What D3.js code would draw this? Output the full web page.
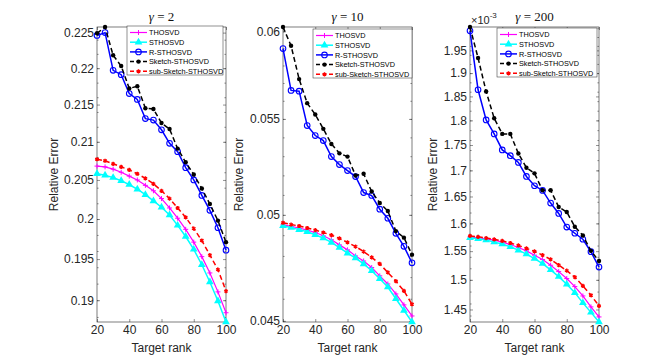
<!DOCTYPE html>
<html lang="en">
<head>
    <meta charset="UTF-8">
    <title>Relative Error vs Target rank</title>
    <script src="https://d3js.org/d3.v7.min.js"></script>
    <style>
        body {
            margin: 0;
            background-color: #ffffff;
        }

        svg {
            display: block;
            font-family: "Liberation Sans", Arial, sans-serif;
        }

        .tick text {
            font-size: 12px;
            fill: #262626;
        }

        .axis-label {
            font-size: 12px;
            fill: #262626;
            text-anchor: middle;
        }

        .title {
            font-family: "Liberation Serif", "Times New Roman", serif;
            font-size: 13px;
            font-weight: normal;
            fill: #111;
            text-anchor: middle;
        }

        .legend-text {
            font-size: 7.3px;
            fill: #000;
        }
    </style>
</head>
<body>
    <svg width="664" height="361"></svg>

    <script>
        const ranks = [20, 25, 30, 35, 40, 45, 50, 55, 60, 65, 70, 75, 80, 85, 90, 95, 100];
        const methods = ["THOSVD", "STHOSVD", "R-STHOSVD", "Sketch-STHOSVD", "sub-Sketch-STHOSVD"];
        const gammas = ["2", "10", "200"];
        const xTicks = [20, 40, 60, 80, 100];

        // gamma = 2
        const g2Thosvd = [0.2068, 0.2067, 0.2064, 0.2060, 0.2055, 0.2050, 0.2043, 0.2036, 0.2026, 0.2014, 0.2001, 0.1987, 0.1971, 0.1953, 0.1933, 0.1910, 0.1885];
        const g2Sthosvd = [0.2058, 0.2056, 0.2053, 0.2049, 0.2044, 0.2038, 0.2031, 0.2023, 0.2015, 0.2005, 0.1992, 0.1978, 0.1962, 0.1943, 0.1922, 0.1899, 0.1874];
        const g2RSthosvd = [0.2246, 0.2250, 0.2197, 0.2191, 0.2165, 0.2157, 0.2131, 0.2129, 0.2116, 0.2098, 0.2087, 0.2066, 0.2050, 0.2030, 0.2011, 0.1989, 0.1961];
        const g2Sketch = [0.2249, 0.2258, 0.2218, 0.2203, 0.2172, 0.2175, 0.2145, 0.2144, 0.2125, 0.2117, 0.2091, 0.2073, 0.2057, 0.2039, 0.2019, 0.1998, 0.1971];
        const g2SubSketch = [0.2077, 0.2075, 0.2071, 0.2067, 0.2063, 0.2058, 0.2052, 0.2045, 0.2036, 0.2026, 0.2014, 0.2002, 0.1988, 0.1973, 0.1955, 0.1937, 0.1911];
        const g2YTicks = [0.19, 0.195, 0.2, 0.205, 0.21, 0.215, 0.22, 0.225];

        // gamma = 10
        const g10Thosvd = [0.04951, 0.04943, 0.04935, 0.04925, 0.04913, 0.04897, 0.04878, 0.04853, 0.04829, 0.04800, 0.04776, 0.04745, 0.04706, 0.04668, 0.04622, 0.04572, 0.04522];
        const g10Sthosvd = [0.04946, 0.04937, 0.04927, 0.04917, 0.04902, 0.04886, 0.04865, 0.04840, 0.04813, 0.04790, 0.04762, 0.04730, 0.04692, 0.04654, 0.04600, 0.04547, 0.04495];
        const g10RSthosvd = [0.05898, 0.05658, 0.05654, 0.05464, 0.05410, 0.05383, 0.05298, 0.05256, 0.05225, 0.05194, 0.05112, 0.05097, 0.05028, 0.04983, 0.04909, 0.04846, 0.04767];
        const g10Sketch = [0.06026, 0.05915, 0.05722, 0.05587, 0.05524, 0.05446, 0.05365, 0.05315, 0.05298, 0.05199, 0.05208, 0.05117, 0.05059, 0.05019, 0.04920, 0.04888, 0.04806];
        const g10SubSketch = [0.04961, 0.04952, 0.04945, 0.04935, 0.04925, 0.04913, 0.04900, 0.04884, 0.04865, 0.04845, 0.04821, 0.04793, 0.04762, 0.04722, 0.04681, 0.04636, 0.04575];
        const g10YTicks = [0.045, 0.05, 0.055, 0.06];

        // gamma = 200, values in units of 1e-3
        const g200Thosvd = [1.5756, 1.5739, 1.5720, 1.5697, 1.5661, 1.5619, 1.5564, 1.5505, 1.5429, 1.5352, 1.5253, 1.5142, 1.5022, 1.4885, 1.4726, 1.4543, 1.4377];
        const g200Sthosvd = [1.5739, 1.5720, 1.5697, 1.5661, 1.5626, 1.5577, 1.5518, 1.5448, 1.5369, 1.5281, 1.5172, 1.5055, 1.4926, 1.4782, 1.4610, 1.4452, 1.4294];
        const g200RSthosvd = [1.9941, 1.8641, 1.8010, 1.7723, 1.7402, 1.7288, 1.7155, 1.6882, 1.6704, 1.6614, 1.6376, 1.6183, 1.5933, 1.5821, 1.5712, 1.5490, 1.5220];
        const g200Sketch = [2.0028, 1.9332, 1.8604, 1.8043, 1.7724, 1.7724, 1.7331, 1.7052, 1.6942, 1.6618, 1.6618, 1.6302, 1.6210, 1.5939, 1.5781, 1.5505, 1.5326];
        const g200SubSketch = [1.5773, 1.5756, 1.5734, 1.5711, 1.5684, 1.5645, 1.5603, 1.5550, 1.5497, 1.5429, 1.5355, 1.5256, 1.5158, 1.5046, 1.4896, 1.4738, 1.4560];
        const g200YTicks = [1.45, 1.5, 1.55, 1.6, 1.65, 1.7, 1.75, 1.8, 1.85, 1.9, 1.95];

        const svg = d3.select("svg");
        const plotTop = 27, plotBottom = 322, plotW = 129;

        const panels = [
            { series: [g2Thosvd, g2Sthosvd, g2RSthosvd, g2Sketch, g2SubSketch], yTicks: g2YTicks, minorStep: 0.002,
              left: 97, ylabelOff: 39, legendX: 127, legendY: 26, legendW: 96, exponent: null },
            { series: [g10Thosvd, g10Sthosvd, g10RSthosvd, g10Sketch, g10SubSketch], yTicks: g10YTicks, minorStep: 0.001,
              left: 283, ylabelOff: 40, legendX: 313, legendY: 29, legendW: 99, exponent: null },
            { series: [g200Thosvd, g200Sthosvd, g200RSthosvd, g200Sketch, g200SubSketch], yTicks: g200YTicks, minorStep: 0.02,
              left: 470, ylabelOff: 33, legendX: 497, legendY: 28, legendW: 100, exponent: "-3" }
        ];

        const styles = [
            { color: "#ff00ff", width: 1.2, dash: null, marker: "plus" },
            { color: "#00ffff", width: 1.5, dash: null, marker: "triangle" },
            { color: "#0000ff", width: 1.5, dash: null, marker: "circle" },
            { color: "#000000", width: 1.5, dash: "5,3", marker: "dot" },
            { color: "#ff0000", width: 1.5, dash: "5,3", marker: "star" }
        ];

        const fmt = d => String(+d.toFixed(4));

        function drawMarker(g, type, x, y, color) {
            if (type === "circle") {
                g.append("circle").attr("cx", x).attr("cy", y).attr("r", 2.8)
                    .attr("fill", "none").attr("stroke", color).attr("stroke-width", 1.1);
            } else if (type === "dot") {
                g.append("circle").attr("cx", x).attr("cy", y).attr("r", 2.2).attr("fill", color);
            } else if (type === "triangle") {
                g.append("path").attr("transform", `translate(${x},${y})`)
                    .attr("d", d3.symbol(d3.symbolTriangle).size(26)).attr("fill", color);
            } else if (type === "plus") {
                g.append("path").attr("transform", `translate(${x},${y})`)
                    .attr("d", "M-2.5,0H2.5M0,-2.5V2.5").attr("stroke", color).attr("stroke-width", 1);
            } else if (type === "star") {
                g.append("path").attr("transform", `translate(${x},${y})`)
                    .attr("d", d3.symbol(d3.symbolAsterisk).size(12))
                    .attr("stroke", color).attr("stroke-width", 1.4).attr("fill", "none");
            }
        }

        panels.forEach(function(p, pi) {
            const g = svg.append("g");
            const x = d3.scaleLinear().domain([20, 100]).range([p.left, p.left + plotW]);
            const y = d3.scaleLog()
                .domain(d3.extent(p.series.flat()))
                .range([plotBottom, plotTop]);

            const minor = d3.range(Math.ceil(y.domain()[0] / p.minorStep) * p.minorStep, y.domain()[1], p.minorStep);

            // axes box
            g.append("rect")
                .attr("x", p.left).attr("y", plotTop)
                .attr("width", plotW).attr("height", plotBottom - plotTop)
                .attr("fill", "#fff").attr("stroke", "#262626").attr("stroke-width", 0.6);

            const axes = [
                d3.axisLeft(y).tickValues(p.yTicks).tickSize(-3).tickPadding(3).tickFormat(fmt),
                d3.axisRight(y).tickValues(p.yTicks).tickSize(-3).tickFormat(""),
                d3.axisLeft(y).tickValues(minor).tickSize(-1.6).tickFormat(""),
                d3.axisRight(y).tickValues(minor).tickSize(-1.6).tickFormat("")
            ];
            axes.forEach(function(ax, i) {
                g.append("g")
                    .attr("transform", `translate(${i % 2 === 0 ? p.left : p.left + plotW},0)`)
                    .call(ax)
                    .call(s => s.select(".domain").remove())
                    .call(s => s.selectAll("line").attr("stroke", "#262626").attr("stroke-width", 0.5));
            });

            g.append("g")
                .attr("transform", `translate(0,${plotBottom})`)
                .call(d3.axisBottom(x).tickValues(xTicks).tickSize(-3).tickPadding(3))
                .call(s => s.select(".domain").remove())
                .call(s => s.selectAll("line").attr("stroke", "#262626").attr("stroke-width", 0.5));
            g.append("g")
                .attr("transform", `translate(0,${plotTop})`)
                .call(d3.axisTop(x).tickValues(xTicks).tickSize(-3).tickFormat(""))
                .call(s => s.select(".domain").remove())
                .call(s => s.selectAll("line").attr("stroke", "#262626").attr("stroke-width", 0.5));

            // series
            p.series.forEach(function(vals, si) {
                const st = styles[si];
                const pts = ranks.map((r, k) => [x(r), y(vals[k])]);
                g.append("path")
                    .attr("d", d3.line()(pts))
                    .attr("fill", "none")
                    .attr("stroke", st.color)
                    .attr("stroke-width", st.width)
                    .attr("stroke-dasharray", st.dash);
                pts.forEach(pt => drawMarker(g, st.marker, pt[0], pt[1], st.color));
            });

            // labels
            g.append("text")
                .attr("class", "axis-label")
                .attr("x", p.left + plotW / 2)
                .attr("y", 352)
                .text("Target rank");

            g.append("text")
                .attr("class", "axis-label")
                .attr("transform", `translate(${p.left - p.ylabelOff},${(plotTop + plotBottom) / 2}) rotate(-90)`)
                .text("Relative Error");

            const title = g.append("text")
                .attr("class", "title")
                .attr("x", p.left + plotW / 2)
                .attr("y", 21);
            title.append("tspan").attr("font-style", "italic").text("γ");
            title.append("tspan").text(" = " + gammas[pi]);

            if (p.exponent) {
                const ex = g.append("text")
                    .attr("x", p.left + 1)
                    .attr("y", 24)
                    .attr("font-size", "11px")
                    .attr("fill", "#262626");
                ex.append("tspan").text("×10");
                ex.append("tspan").attr("font-size", "8px").attr("dy", -6).text(p.exponent);
            }

            // legend
            const lg = g.append("g");
            lg.append("rect")
                .attr("x", p.legendX).attr("y", p.legendY)
                .attr("width", p.legendW).attr("height", 49)
                .attr("fill", "#fff").attr("stroke", "#262626").attr("stroke-width", 0.5);

            methods.forEach(function(name, mi) {
                const st = styles[mi];
                const ly = p.legendY + 6.5 + mi * 9.7;
                lg.append("line")
                    .attr("x1", p.legendX + 3).attr("x2", p.legendX + 20)
                    .attr("y1", ly).attr("y2", ly)
                    .attr("stroke", st.color)
                    .attr("stroke-width", st.width)
                    .attr("stroke-dasharray", st.dash ? "4,2.5" : null);
                drawMarker(lg, st.marker, p.legendX + 11.5, ly, st.color);
                lg.append("text")
                    .attr("class", "legend-text")
                    .attr("x", p.legendX + 22)
                    .attr("y", ly + 2.6)
                    .text(name);
            });
        });
    </script>
</body>
</html>
